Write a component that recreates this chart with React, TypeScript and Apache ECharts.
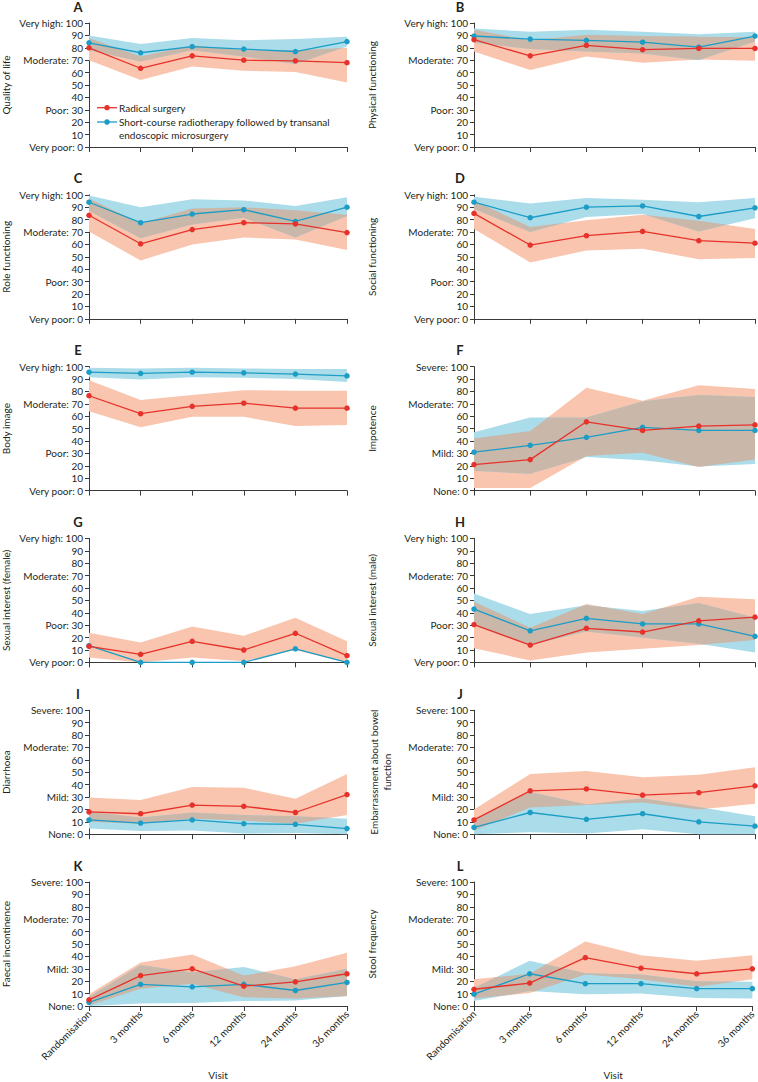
import React, { useEffect, useRef } from "react";
import * as echarts from "echarts";

const visits = ["Randomisation", "3 months", "6 months", "12 months", "24 months", "36 months"];
const groupNames = ["Radical surgery", "Short-course radiotherapy followed by transanal", "endoscopic microsurgery"];
const functionLevels: Record<number, string> = { 100: "Very high", 70: "Moderate", 30: "Poor", 0: "Very poor" };
const symptomLevels: Record<number, string> = { 100: "Severe", 70: "Moderate", 30: "Mild", 0: "None" };

// A Quality of life
const qolSurg = [80, 63.5, 73.5, 70, 69.5, 68];
const qolSurgLo = [70, 54, 65, 61.5, 60.5, 52];
const qolSurgHi = [88, 73, 82, 78, 78, 80];
const qolTem = [84, 76, 81, 79, 77, 85];
const qolTemLo = [78, 69, 78, 73, 67, 81];
const qolTemHi = [90, 83, 88, 86, 87, 89];
// B Physical functioning
const physSurg = [86.5, 73.5, 82, 78.5, 79.5, 79.5];
const physSurgLo = [77, 62, 73, 68, 70.5, 69.5];
const physSurgHi = [94.5, 86, 90.5, 89.5, 89, 88.5];
const physTem = [89.5, 87, 86, 84.5, 80.5, 89.5];
const physTemLo = [84, 79, 77, 75.5, 70, 85];
const physTemHi = [95.5, 93, 94.5, 93, 91, 93];
// C Role functioning
const roleSurg = [83.5, 60.5, 72, 77.5, 76.5, 69.5];
const roleSurgLo = [70.5, 47, 60, 65.5, 64, 55.5];
const roleSurgHi = [97, 77, 89, 90, 87.5, 84];
const roleTem = [94, 77.5, 84.5, 88, 78.5, 90];
const roleTemLo = [87, 65, 76, 81.5, 65.5, 83];
const roleTemHi = [99.5, 90, 96.5, 95.5, 91, 98];
// D Social functioning
const socSurg = [85, 59.5, 67, 70.5, 63, 61];
const socSurgLo = [72.5, 45.5, 55, 56.5, 48, 49];
const socSurgHi = [95.5, 74, 79.5, 84, 79, 72.5];
const socTem = [94, 81.5, 90, 91, 82.5, 89.5];
const socTemLo = [88.5, 70, 82, 84.5, 70.5, 81];
const socTemHi = [98.5, 93, 97.5, 96, 94, 97.5];
// E Body image
const bodySurg = [76.5, 62, 68, 70.5, 66.5, 66.5];
const bodySurgLo = [64, 51, 59.5, 59.5, 52, 53];
const bodySurgHi = [89, 73, 77, 81, 80.5, 80.5];
const bodyTem = [95.5, 94.5, 95.5, 95, 94, 92.5];
const bodyTemLo = [91.5, 89.5, 91.5, 91, 90, 87.5];
const bodyTemHi = [99, 98.5, 99, 98.5, 98, 98];
// F Impotence
const impSurg = [21, 25, 55.5, 48.5, 52, 53];
const impSurgLo = [2, 2, 28, 30.5, 19, 25];
const impSurgHi = [42, 48, 83, 72.5, 85, 82];
const impTem = [31, 36.5, 43, 51, 48.5, 48.5];
const impTemLo = [16, 13.5, 27, 24.5, 19.5, 21.5];
const impTemHi = [47, 59, 59, 72, 77, 75.5];
// G Sexual interest (female)
const sexFSurg = [13, 6.5, 17, 10, 23.5, 5.5];
const sexFSurgLo = [4, 0, 4, 1, 10, 0];
const sexFSurgHi = [24, 16, 29, 21.5, 36, 17];
const sexFTem = [13.5, 0, 0, 0, 11, 0];
// H Sexual interest (male)
const sexMSurg = [30.5, 14, 27.5, 24.5, 33.5, 36.5];
const sexMSurgLo = [11.5, 1.5, 8, 11, 14, 18];
const sexMSurgHi = [49, 28, 47, 39, 53, 51];
const sexMTem = [43, 25.5, 35.5, 31, 31, 21];
const sexMTemLo = [30, 14, 25, 20, 15, 8];
const sexMTemHi = [55.5, 39, 46, 41.5, 48, 36];
// I Diarrhoea
const diaSurg = [18, 16.5, 23.5, 22.5, 17.5, 32];
const diaSurgLo = [10, 8.5, 12.5, 11, 8.5, 15.5];
const diaSurgHi = [29.5, 27.5, 38, 37.5, 28.5, 48.5];
const diaTem = [11.5, 9, 11.5, 8.5, 8, 4.5];
const diaTemLo = [4.5, 2.5, 3, 0.5, 1, 0];
const diaTemHi = [18, 13.5, 17.5, 15.5, 14.5, 12.5];
// J Embarrassment about bowel function
const embSurg = [11.5, 35, 36.5, 31.5, 33.5, 39];
const embSurgLo = [3, 21.5, 23.5, 25.5, 20, 24.5];
const embSurgHi = [20, 48.5, 51, 46, 48, 54];
const embTem = [5.5, 17.5, 12, 16.5, 10, 6.5];
const embTemLo = [0, 1.5, 0.5, 4, 0, 0];
const embTemHi = [12, 34, 24, 29, 22, 14.5];
// K Faecal incontinence
const fiSurg = [5, 24.5, 30, 16, 19.5, 26];
const fiSurgLo = [0.5, 14, 18, 7, 6, 8];
const fiSurgHi = [9.5, 35, 41.5, 24.5, 32, 43];
const fiTem = [3, 17.5, 15.5, 17.5, 12.5, 19];
const fiTemLo = [0, 2, 2.5, 4, 4.5, 8];
const fiTemHi = [7.5, 33, 27, 31.5, 21.5, 30];
// L Stool frequency
const sfSurg = [13.5, 18.5, 39, 30.5, 26, 30];
const sfSurgLo = [6, 10.5, 25.5, 21.5, 15.5, 21.5];
const sfSurgHi = [21.5, 26, 52, 41, 36.5, 41];
const sfTem = [9.5, 26, 18, 18, 14, 14];
const sfTemLo = [4, 12, 9.5, 10, 6.5, 6];
const sfTemHi = [14.5, 36.5, 26.5, 25.5, 20, 19.5];

type Panel = {
  letter: string; name: string[]; levels: Record<number, string>;
  s: number[]; sLo: number[]; sHi: number[];
  t: number[]; tLo: number[] | null; tHi: number[] | null;
};

const panels: Panel[] = [
  { letter: "A", name: ["Quality of life"], levels: functionLevels, s: qolSurg, sLo: qolSurgLo, sHi: qolSurgHi, t: qolTem, tLo: qolTemLo, tHi: qolTemHi },
  { letter: "B", name: ["Physical functioning"], levels: functionLevels, s: physSurg, sLo: physSurgLo, sHi: physSurgHi, t: physTem, tLo: physTemLo, tHi: physTemHi },
  { letter: "C", name: ["Role functioning"], levels: functionLevels, s: roleSurg, sLo: roleSurgLo, sHi: roleSurgHi, t: roleTem, tLo: roleTemLo, tHi: roleTemHi },
  { letter: "D", name: ["Social functioning"], levels: functionLevels, s: socSurg, sLo: socSurgLo, sHi: socSurgHi, t: socTem, tLo: socTemLo, tHi: socTemHi },
  { letter: "E", name: ["Body image"], levels: functionLevels, s: bodySurg, sLo: bodySurgLo, sHi: bodySurgHi, t: bodyTem, tLo: bodyTemLo, tHi: bodyTemHi },
  { letter: "F", name: ["Impotence"], levels: symptomLevels, s: impSurg, sLo: impSurgLo, sHi: impSurgHi, t: impTem, tLo: impTemLo, tHi: impTemHi },
  { letter: "G", name: ["Sexual interest (female)"], levels: functionLevels, s: sexFSurg, sLo: sexFSurgLo, sHi: sexFSurgHi, t: sexFTem, tLo: null, tHi: null },
  { letter: "H", name: ["Sexual interest (male)"], levels: functionLevels, s: sexMSurg, sLo: sexMSurgLo, sHi: sexMSurgHi, t: sexMTem, tLo: sexMTemLo, tHi: sexMTemHi },
  { letter: "I", name: ["Diarrhoea"], levels: symptomLevels, s: diaSurg, sLo: diaSurgLo, sHi: diaSurgHi, t: diaTem, tLo: diaTemLo, tHi: diaTemHi },
  { letter: "J", name: ["Embarrassment about bowel", "function"], levels: symptomLevels, s: embSurg, sLo: embSurgLo, sHi: embSurgHi, t: embTem, tLo: embTemLo, tHi: embTemHi },
  { letter: "K", name: ["Faecal incontinence"], levels: symptomLevels, s: fiSurg, sLo: fiSurgLo, sHi: fiSurgHi, t: fiTem, tLo: fiTemLo, tHi: fiTemHi },
  { letter: "L", name: ["Stool frequency"], levels: symptomLevels, s: sfSurg, sLo: sfSurgLo, sHi: sfSurgHi, t: sfTem, tLo: sfTemLo, tHi: sfTemHi },
];

const RED = "#e6322b";
const BLUE = "#1b9dc6";
const RED_BAND = "#f9c5ae";
const BLUE_BAND = "#abdcea";
const MIX_BAND = "#c9b7aa";
const TEXT = "#231f20";
const FONT = "Lato";

type Pt = [number, number];

function bandPolys(lo: number[], hi: number[]): Pt[][] {
  const up: Pt[] = hi.map((v, i) => [i, v] as Pt);
  const dn: Pt[] = lo.map((v, i) => [i, v] as Pt).reverse();
  return [[...up, ...dn]];
}

function overlapPolys(l1: number[], u1: number[], l2: number[], u2: number[]): Pt[][] {
  const pts: { x: number; lo: number; hi: number }[] = [];
  const n = l1.length;
  const at = (a: number[], i: number, t: number) => a[i] + (a[i + 1] - a[i]) * t;
  for (let i = 0; i < n - 1; i++) {
    const ts = [0];
    const pairs: [number[], number[]][] = [[l1, l2], [u1, u2], [l1, u2], [l2, u1]];
    for (const [a, b] of pairs) {
      const d0 = a[i] - b[i];
      const d1 = a[i + 1] - b[i + 1];
      if (d0 * d1 < 0) ts.push(d0 / (d0 - d1));
    }
    ts.sort((p, q) => p - q);
    for (const t of ts) {
      pts.push({
        x: i + t,
        lo: Math.max(at(l1, i, t), at(l2, i, t)),
        hi: Math.min(at(u1, i, t), at(u2, i, t)),
      });
    }
  }
  pts.push({ x: n - 1, lo: Math.max(l1[n - 1], l2[n - 1]), hi: Math.min(u1[n - 1], u2[n - 1]) });
  const polys: Pt[][] = [];
  let cur: typeof pts = [];
  const flush = () => {
    if (cur.length > 1) {
      const up: Pt[] = cur.map((p) => [p.x, Math.max(p.hi, p.lo)] as Pt);
      const dn: Pt[] = cur.map((p) => [p.x, p.lo] as Pt).reverse();
      polys.push([...up, ...dn]);
    }
    cur = [];
  };
  for (const p of pts) {
    if (p.hi - p.lo >= -1e-6) cur.push(p);
    else flush();
  }
  flush();
  return polys;
}

function polySeries(idx: number, polys: Pt[][], color: string, z: number) {
  return {
    type: "custom",
    xAxisIndex: idx,
    yAxisIndex: idx,
    z,
    silent: true,
    data: visits.map((_, i) => [i, 0, 100]),
    encode: { x: 0, y: [1, 2] },
    renderItem: (params: any, api: any) => {
      if (params.dataIndex !== 0) return null;
      return {
        type: "group",
        children: polys.map((poly) => ({
          type: "polygon",
          shape: { points: poly.map((p) => api.coord(p)) },
          style: { fill: color, stroke: null },
        })),
      };
    },
  };
}

const COL_LEFT = [89, 474];
const COL_WIDTH = [258, 281];
const ROW_TOP0 = 23;
const ROW_STEP = 171.8;
const GRID_H = 124;

function buildOption() {
  const grid: any[] = [];
  const xAxis: any[] = [];
  const yAxis: any[] = [];
  const series: any[] = [];
  const graphic: any[] = [];

  panels.forEach((p, idx) => {
    const col = idx % 2;
    const row = Math.floor(idx / 2);
    const top = ROW_TOP0 + ROW_STEP * row;
    const left = COL_LEFT[col];
    const width = COL_WIDTH[col];
    const last = row === 5;
    grid.push({ left, top, width, height: GRID_H });
    xAxis.push({
      type: "value",
      gridIndex: idx,
      min: 0,
      max: visits.length - 1,
      interval: 1,
      splitLine: { show: false },
      axisLine: { show: true, lineStyle: { color: "#3a3a3a", width: 1 } },
      axisTick: { show: true, length: 5, lineStyle: { color: "#3a3a3a" } },
      axisLabel: last
        ? { show: true, rotate: 45, fontSize: 10, color: TEXT, fontFamily: FONT, margin: 6, formatter: (v: number) => visits[v] }
        : { show: false },
      name: last ? "Visit" : "",
      nameLocation: "middle",
      nameGap: 64,
      nameTextStyle: { fontSize: 10, color: TEXT, fontFamily: FONT },
    });
    yAxis.push({
      type: "value",
      gridIndex: idx,
      min: 0,
      max: 100,
      interval: 10,
      splitLine: { show: false },
      axisLine: { show: true, lineStyle: { color: "#3a3a3a", width: 1 } },
      axisTick: { show: true, length: 4, lineStyle: { color: "#3a3a3a" } },
      axisLabel: {
        fontSize: 10,
        color: TEXT,
        fontFamily: FONT,
        margin: 6,
        formatter: (v: number) => (p.levels[v] ? `${p.levels[v]}: ${v}` : `${v}`),
      },
    });

    series.push(polySeries(idx, bandPolys(p.sLo, p.sHi), RED_BAND, 1));
    if (p.tLo && p.tHi) {
      series.push(polySeries(idx, bandPolys(p.tLo, p.tHi), BLUE_BAND, 2));
      series.push(polySeries(idx, overlapPolys(p.sLo, p.sHi, p.tLo, p.tHi), MIX_BAND, 3));
    }
    series.push({
      type: "line",
      name: groupNames[1],
      xAxisIndex: idx,
      yAxisIndex: idx,
      z: 5,
      data: p.t.map((v, i) => [i, v]),
      symbol: "circle",
      symbolSize: 5.5,
      lineStyle: { color: BLUE, width: 1.3 },
      itemStyle: { color: BLUE },
    });
    series.push({
      type: "line",
      name: groupNames[0],
      xAxisIndex: idx,
      yAxisIndex: idx,
      z: 6,
      data: p.s.map((v, i) => [i, v]),
      symbol: "circle",
      symbolSize: 5.5,
      lineStyle: { color: RED, width: 1.3 },
      itemStyle: { color: RED },
    });

    graphic.push({
      type: "text",
      x: col === 0 ? 78 : 460,
      y: top - 16.5,
      style: { text: p.letter, font: `bold 13px ${FONT}`, fill: TEXT, textAlign: "center", textVerticalAlign: "middle" },
    });
    graphic.push({
      type: "text",
      x: col === 0 ? 6 : p.name.length > 1 ? 380 : 372,
      y: top + GRID_H / 2,
      rotation: Math.PI / 2,
      style: {
        text: p.name.join("\n"),
        font: `10px ${FONT}`,
        fill: TEXT,
        lineHeight: 13,
        textAlign: "center",
        textVerticalAlign: "middle",
      },
    });
  });

  // legend in panel A
  const legendX = 97;
  const legendItems = [
    { y: 107.7, color: RED, lines: [groupNames[0]] },
    { y: 122, color: BLUE, lines: [groupNames[1], groupNames[2]] },
  ];
  legendItems.forEach((it) => {
    graphic.push({ type: "line", shape: { x1: legendX, y1: it.y, x2: legendX + 20, y2: it.y }, style: { stroke: it.color, lineWidth: 1.3 } });
    graphic.push({ type: "circle", shape: { cx: legendX + 10, cy: it.y, r: 2.75 }, style: { fill: it.color } });
    it.lines.forEach((ln, k) => {
      graphic.push({
        type: "text",
        x: legendX + 22,
        y: it.y + k * 12.5,
        style: { text: ln, font: `10px ${FONT}`, fill: TEXT, textAlign: "left", textVerticalAlign: "middle" },
      });
    });
  });

  return {
    animation: false,
    textStyle: { fontFamily: FONT },
    grid,
    xAxis,
    yAxis,
    series,
    graphic,
  };
}

export default function App() {
  const ref = useRef<HTMLDivElement>(null);
  useEffect(() => {
    if (!ref.current) return;
    const chart = echarts.init(ref.current, undefined, { renderer: "svg" });
    chart.setOption(buildOption() as any);
    return () => chart.dispose();
  }, []);
  return (
    <div
      ref={ref}
      style={{ position: "absolute", left: 0, top: 0, width: 758, height: 1082, background: "#ffffff" }}
    />
  );
}
